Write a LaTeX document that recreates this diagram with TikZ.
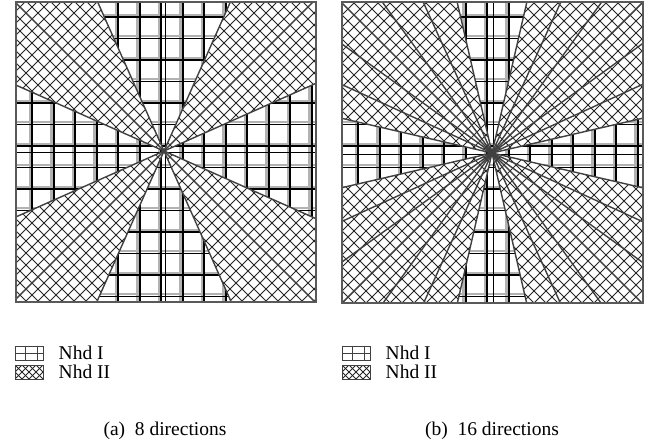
\documentclass[tikz,border=0pt]{standalone}
\usepackage{fontspec}
\setmainfont{Liberation Serif}
\usetikzlibrary{positioning, calc}

\tikzset{
  gridline/.style={black, line width=1.7pt},
  gridshade/.style={black!30, line width=2.2pt},
  hatchline/.style={black!85, line width=0.95pt},
  rayline/.style={black!75, line width=1.4pt},
  frameline/.style={black!65, line width=1.6pt},
  keybox/.style={draw=black!75, line width=1pt, minimum width=28pt, minimum height=14pt, inner sep=0pt},
  keytext/.style={font=\fontsize{19.5}{22}\selectfont, inner sep=0pt, anchor=west},
  captext/.style={font=\fontsize{19.5}{22}\selectfont, inner sep=0pt},
}

% Nhd I: square grid over the whole panel, #1,#2 = centre
\newcommand{\nhdgrid}[2]{%
  \foreach \k in {0,...,13}{
    \draw[gridshade] (14+21.5*\k,0) -- ++(0,300);
    \draw[gridshade] (0,12.7+21.5*\k) -- ++(300,0);
  }
  \foreach \k in {0,...,13}{
    \draw[gridline] (16.3+21.5*\k,0) -- ++(0,300);
    \draw[gridline] (0,15+21.5*\k) -- ++(300,0);
  }
  \draw[gridline] (#1+1.5,0) -- ++(0,300);
  \draw[gridline] (0,#2+1.5) -- ++(300,0);
}
% Nhd II: cross hatching
\newcommand{\nhdhatch}{%
  \fill[white] (-320,-320) rectangle (320,320);
  \foreach \k in {-28,...,28}{
    \draw[hatchline] (12*\k-320,-320) -- ++(640,640);
    \draw[hatchline] (12*\k+320,-320) -- ++(-640,640);
  }
}

\begin{document}
\begin{tikzpicture}[x=1pt, y=-1pt]
  \useasboundingbox (0,0) rectangle (658,445);

  % (a) 8 directions
  \begin{scope}[shift={(16,2)}]
    \begin{scope}
      \clip (0,0) rectangle (300,300);
      \nhdgrid{148}{149}
      \foreach \a in {45,135,225,315}{
        \begin{scope}[shift={(148,149)}]
          \clip (0,0) -- (\a-21:450) -- (\a:450) -- (\a+21:450) -- cycle;
          \nhdhatch
        \end{scope}
      }
      \begin{scope}[shift={(148,149)}]
        \foreach \q in {0,90,180,270}
          \foreach \d in {24,45,66}
            \draw[rayline] (0,0) -- (\q+\d:450);
      \end{scope}
    \end{scope}
    \draw[frameline] (0,0) rectangle (300,300);
  \end{scope}

  % (b) 16 directions
  \begin{scope}[shift={(342,2)}]
    \begin{scope}
      \clip (0,0) rectangle (301,301);
      \nhdgrid{150}{151}
      \foreach \a in {45,135,225,315}{
        \begin{scope}[shift={(150,151)}]
          \clip (0,0) -- (\a-32:450) -- (\a:450) -- (\a+32:450) -- cycle;
          \nhdhatch
        \end{scope}
      }
      \begin{scope}[shift={(150,151)}]
        \foreach \q in {0,90,180,270}
          \foreach \d in {13,24.5,36,45,54,65.5,77}
            \draw[rayline] (0,0) -- (\q+\d:450);
      \end{scope}
    \end{scope}
    \draw[frameline] (0,0) rectangle (301,301);
  \end{scope}

  % legends
  \foreach \p/\x in {a/29, b/356}{
    \node[keybox] (keyI\p) at (\x,353) {};
    \draw[black!75, line width=1pt] ([xshift=-4pt]keyI\p.north) -- ([xshift=-4pt]keyI\p.south);
    \draw[black!75, line width=1pt] ([xshift=8pt]keyI\p.north) -- ([xshift=8pt]keyI\p.south);
    \draw[black!75, line width=1pt] (keyI\p.west) -- (keyI\p.east);
    \node[keybox, path picture={
        \foreach \k in {-5,...,5}{
          \draw[hatchline, line width=0.8pt] ([xshift=\k*7pt]path picture bounding box.center) ++(-12pt,-12pt) -- ++(24pt,24pt);
          \draw[hatchline, line width=0.8pt] ([xshift=\k*7pt]path picture bounding box.center) ++(12pt,-12pt) -- ++(-24pt,24pt);
        }}] (keyII\p) at (\x,372) {};
    \node[keytext, right=15pt of keyI\p] (txtI\p) {Nhd I};
    \node[keytext, right=15pt of keyII\p] (txtII\p) {Nhd II};
  }

  % captions
  \node[captext] (capa) at (165,431) {(a)\enspace 8 directions};
  \node[captext] (capb) at (492,431) {(b)\enspace 16 directions};
\end{tikzpicture}
\end{document}
